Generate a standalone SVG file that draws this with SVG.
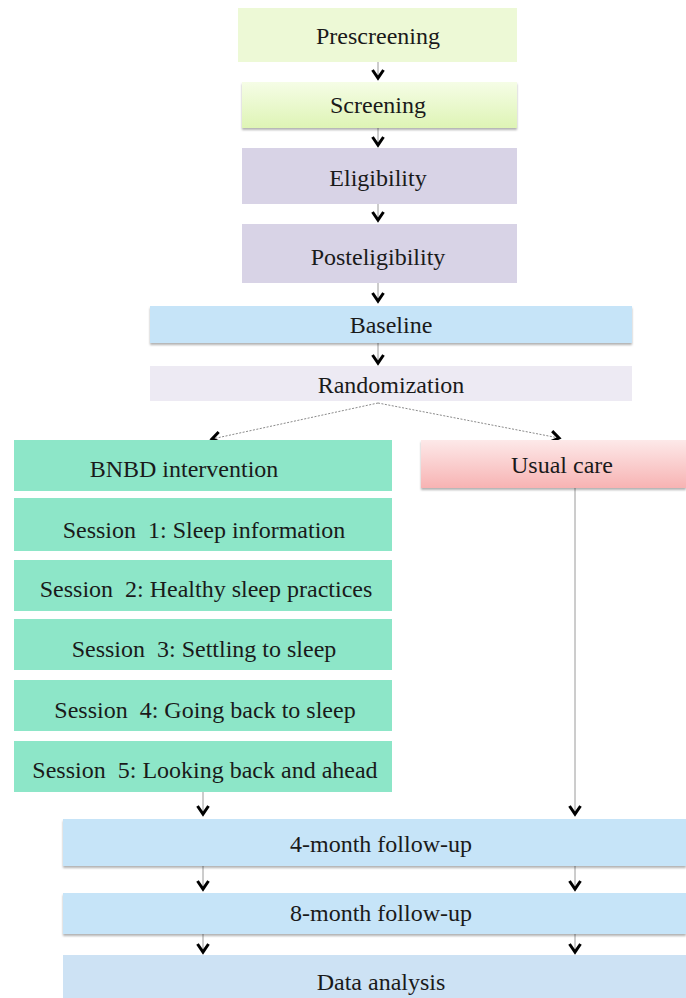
<svg xmlns="http://www.w3.org/2000/svg" width="686" height="998" viewBox="0 0 686 998">
<style>
text{font-family:"Liberation Serif","Times New Roman",serif;font-size:24px;fill:#1a1a1a;text-anchor:middle}
.c{stroke:#9a9a9a;stroke-width:1;fill:none}
.d{stroke:#8a8a8a;stroke-width:1;stroke-dasharray:2 1.5;fill:none}
.g{fill:#8de6c8}
.lb{fill:#c6e4f8}
.pu{fill:#d8d3e6}
</style>
<defs>
<marker id="ch" markerUnits="userSpaceOnUse" markerWidth="16" markerHeight="16" viewBox="-12 -8 14 16" refX="0" refY="0" orient="auto">
<path d="M-8,-5.5 L0,0 L-8,5.5" fill="none" stroke="#000" stroke-width="3"/>
</marker>
<linearGradient id="gs" x1="0" y1="0" x2="0" y2="1"><stop offset="0" stop-color="#f5fde6"/><stop offset="1" stop-color="#def4b5"/></linearGradient>
<linearGradient id="gp" x1="0" y1="0" x2="0" y2="1"><stop offset="0" stop-color="#fde9e9"/><stop offset="1" stop-color="#f7b3b3"/></linearGradient>
<filter id="sh" x="-5%" y="-10%" width="110%" height="130%"><feDropShadow dx="0" dy="2" stdDeviation="1.2" flood-color="#000" flood-opacity="0.3"/></filter>
</defs>
<g id="connectors">
<line class="c" x1="378" y1="62" x2="378" y2="78" marker-end="url(#ch)"/>
<line class="c" x1="378" y1="128" x2="378" y2="145" marker-end="url(#ch)"/>
<line class="c" x1="378" y1="204" x2="378" y2="220" marker-end="url(#ch)"/>
<line class="c" x1="378" y1="283" x2="378" y2="301" marker-end="url(#ch)"/>
<line class="c" x1="378" y1="343" x2="378" y2="363" marker-end="url(#ch)"/>
<line class="d" x1="378" y1="403" x2="212" y2="439" marker-end="url(#ch)"/>
<line class="d" x1="378" y1="403" x2="559" y2="438" marker-end="url(#ch)"/>
<line class="c" x1="575" y1="488" x2="575" y2="814" marker-end="url(#ch)"/>
<line class="c" x1="203" y1="792" x2="203" y2="814" marker-end="url(#ch)"/>
<line class="c" x1="203" y1="866" x2="203" y2="889" marker-end="url(#ch)"/>
<line class="c" x1="575" y1="866" x2="575" y2="889" marker-end="url(#ch)"/>
<line class="c" x1="203" y1="934" x2="203" y2="952" marker-end="url(#ch)"/>
<line class="c" x1="575" y1="934" x2="575" y2="952" marker-end="url(#ch)"/>
</g>
<g id="prescreening"><rect x="238" y="8" width="279" height="54" fill="#edf9d6"/><text x="378" y="44">Prescreening</text></g>
<g id="screening"><rect x="242" y="82" width="275" height="46" fill="url(#gs)" filter="url(#sh)"/><text x="378" y="113">Screening</text></g>
<g id="eligibility"><rect class="pu" x="242" y="148" width="275" height="56"/><text x="378" y="186">Eligibility</text></g>
<g id="posteligibility"><rect class="pu" x="242" y="224" width="275" height="59"/><text x="378" y="265">Posteligibility</text></g>
<g id="baseline"><rect class="lb" x="150" y="306" width="482" height="37" filter="url(#sh)"/><text x="391" y="333">Baseline</text></g>
<g id="randomization"><rect x="150" y="366" width="482" height="35" fill="#edeaf3"/><text x="391" y="393">Randomization</text></g>
<g id="bnbd"><rect class="g" x="14" y="440" width="378" height="51"/><text x="184" y="477">BNBD intervention</text></g>
<g id="session1"><rect class="g" x="14" y="498" width="378" height="53"/><text x="204" y="538">Session&#160; 1: Sleep information</text></g>
<g id="session2"><rect class="g" x="14" y="560" width="378" height="51"/><text x="206" y="597">Session&#160; 2: Healthy sleep practices</text></g>
<g id="session3"><rect class="g" x="14" y="619" width="378" height="51"/><text x="204" y="657">Session&#160; 3: Settling to sleep</text></g>
<g id="session4"><rect class="g" x="14" y="680" width="378" height="51"/><text x="205" y="718">Session&#160; 4: Going back to sleep</text></g>
<g id="session5"><rect class="g" x="14" y="741" width="378" height="51"/><text x="205" y="778">Session&#160; 5: Looking back and ahead</text></g>
<g id="usualcare"><rect x="421" y="440" width="265" height="48" fill="url(#gp)" filter="url(#sh)"/><text x="562" y="473">Usual care</text></g>
<g id="followup4"><rect class="lb" x="63" y="819" width="623" height="47" filter="url(#sh)"/><text x="381" y="852">4-month follow-up</text></g>
<g id="followup8"><rect class="lb" x="63" y="893" width="623" height="41" filter="url(#sh)"/><text x="381" y="921">8-month follow-up</text></g>
<g id="dataanalysis"><rect x="63" y="955" width="623" height="43" fill="#cde2f4"/><text x="381" y="990">Data analysis</text></g>
</svg>
